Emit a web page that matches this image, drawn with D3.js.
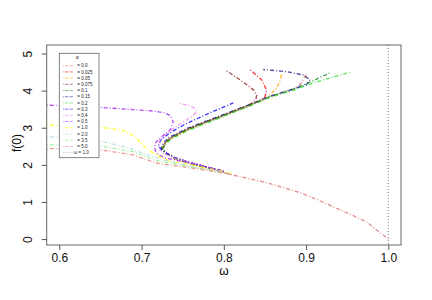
<!DOCTYPE html>
<html>
<head>
<meta charset="utf-8">
<script src="https://cdn.jsdelivr.net/npm/d3@7"></script>
<style>
  body { margin: 0; background: #fff; }
  svg { font-family: "Liberation Sans", Arial, sans-serif; }
</style>
</head>
<body>
<div id="chart"></div>
<script>
// alpha values, one curve each (omega, f(0))
var alphaLabels = ["0.0", "0.025", "0.05", "0.075", "0.1", "0.15", "0.2", "0.3", "0.4", "0.5", "1.0", "2.0", "3.5", "5.0"]

var alpha0 = [[1.0,0.0],[0.986,0.24],[0.9737,0.46],[0.9535,0.67],[0.933,0.87],[0.913,1.07],[0.8927,1.25],[0.8724,1.39],[0.852,1.52],[0.832,1.62],[0.81,1.73],[0.78,1.91],[0.759,2.03],[0.74,2.16],[0.7306,2.28],[0.7255,2.40],[0.729,2.56],[0.735,2.70],[0.7549,2.93],[0.775,3.11],[0.80,3.32],[0.832,3.60],[0.856,3.82],[0.8846,4.03],[0.894,4.20],[0.9008,4.47]]
var alpha0025 = [[0.80,1.82],[0.78,1.94],[0.759,2.06],[0.74,2.19],[0.7306,2.31],[0.725,2.43],[0.7285,2.59],[0.735,2.72],[0.755,2.95],[0.775,3.13],[0.80,3.34],[0.825,3.56],[0.844,3.73],[0.850,3.84],[0.852,4.02],[0.846,4.29],[0.832,4.56]]
var alpha005 = [[0.80,1.81],[0.78,1.93],[0.759,2.05],[0.74,2.18],[0.7306,2.30],[0.7245,2.42],[0.728,2.58],[0.7346,2.71],[0.755,2.94],[0.775,3.12],[0.80,3.33],[0.832,3.61],[0.852,3.80],[0.858,3.92],[0.865,4.10],[0.869,4.30],[0.8704,4.47]]
var alpha0075 = [[0.80,1.82],[0.78,1.94],[0.759,2.06],[0.74,2.19],[0.7306,2.31],[0.726,2.44],[0.729,2.60],[0.736,2.73],[0.755,2.95],[0.775,3.13],[0.80,3.34],[0.825,3.56],[0.834,3.66],[0.839,3.77],[0.84,3.88],[0.836,4.02],[0.828,4.16],[0.8197,4.29],[0.8017,4.56]]
var alpha01 = [[0.80,1.81],[0.78,1.93],[0.759,2.05],[0.74,2.18],[0.7306,2.30],[0.7248,2.42],[0.7285,2.58],[0.7346,2.71],[0.745,2.85],[0.7549,2.94],[0.775,3.12],[0.80,3.33],[0.832,3.61],[0.856,3.84],[0.885,4.05],[0.91,4.28],[0.929,4.48]]
var alpha015 = [[0.80,1.82],[0.78,1.94],[0.759,2.06],[0.74,2.19],[0.7306,2.31],[0.7235,2.44],[0.727,2.60],[0.7335,2.74],[0.754,2.97],[0.775,3.15],[0.80,3.36],[0.832,3.63],[0.856,3.85],[0.8886,4.07],[0.9008,4.17],[0.9048,4.29],[0.8967,4.42],[0.8765,4.51],[0.848,4.57]]
var alpha02 = [[0.80,1.81],[0.78,1.93],[0.759,2.05],[0.74,2.18],[0.7306,2.30],[0.7255,2.41],[0.7295,2.56],[0.7356,2.69],[0.7559,2.92],[0.776,3.10],[0.80,3.31],[0.832,3.59],[0.856,3.82],[0.8846,4.01],[0.91,4.22],[0.9555,4.51]]
var alpha03 = [[0.80,1.82],[0.78,1.94],[0.759,2.06],[0.74,2.20],[0.728,2.33],[0.7205,2.50],[0.723,2.66],[0.733,2.84],[0.745,3.00],[0.759,3.16],[0.785,3.42],[0.8116,3.67]]
var alpha04 = [[0.80,1.82],[0.78,1.94],[0.76,2.06],[0.74,2.19],[0.725,2.33],[0.7204,2.49],[0.7224,2.67],[0.73,2.83],[0.7386,2.98],[0.750,3.15],[0.761,3.30],[0.767,3.43],[0.765,3.52],[0.757,3.61],[0.7447,3.66]]
var alpha05 = [[0.5847,3.61],[0.62,3.58],[0.6486,3.55],[0.689,3.49],[0.7143,3.45],[0.728,3.40],[0.7346,3.33],[0.7386,3.16],[0.7346,2.94],[0.7245,2.76],[0.7164,2.58],[0.7164,2.40],[0.7204,2.27],[0.73,2.18],[0.745,2.11],[0.76,2.05],[0.78,1.94],[0.80,1.82]]
var alpha1 = [[0.5847,3.08],[0.6,3.05],[0.6243,3.04],[0.6528,3.00],[0.6617,2.98],[0.677,2.93],[0.686,2.85],[0.6941,2.71],[0.7022,2.52],[0.7103,2.37],[0.7224,2.22],[0.7346,2.10],[0.76,2.00],[0.79,1.86],[0.81,1.76]]
var alpha2 = [[0.5847,2.76],[0.6243,2.71],[0.6486,2.65],[0.685,2.45],[0.715,2.21],[0.7427,2.04],[0.77,1.92],[0.80,1.79]]
var alpha35 = [[0.5847,2.54],[0.6486,2.51],[0.6892,2.36],[0.7176,2.12],[0.745,2.00],[0.78,1.87],[0.81,1.75]]
var alpha5 = [[0.5847,2.44],[0.6486,2.41],[0.6892,2.27],[0.7176,2.05],[0.745,1.96],[0.78,1.85],[0.81,1.74]]

var curves = [alpha0, alpha0025, alpha005, alpha0075, alpha01, alpha015, alpha02, alpha03, alpha04, alpha05, alpha1, alpha2, alpha35, alpha5]
var colors = ["#d97070", "#ff0000", "#ffa500", "#8b1a1a", "#228b22", "#1a1a8b", "#32dd32", "#0000ff", "#ee82ee", "#a020f0", "#ffff00", "#add8e6", "#90ee90", "#f08080"]

var xTicks = [0.6, 0.7, 0.8, 0.9, 1.0]
var yTicks = [0, 1, 2, 3, 4, 5]
var omegaLine = 1.0

var margin = {top: 45, right: 31, bottom: 55, left: 46.7},
    width = 432 - margin.left - margin.right,
    height = 300 - margin.top - margin.bottom

var svg = d3.select("#chart").append("svg")
    .attr("width", 432)
    .attr("height", 300)

var g = svg.append("g")
    .attr("transform", "translate(" + margin.left + "," + margin.top + ")")

var x = d3.scaleLinear().domain([0.5847, 1.0154]).range([0, width])
var y = d3.scaleLinear().domain([-0.16, 5.23]).range([height, 0])

svg.append("defs").append("clipPath").attr("id", "clip")
  .append("rect").attr("width", width).attr("height", height)

var line = d3.line()
    .x(function(d) { return x(d[0]) })
    .y(function(d) { return y(d[1]) })

var plot = g.append("g").attr("clip-path", "url(#clip)")

plot.selectAll(".curve")
    .data(curves)
  .enter().append("path")
    .attr("class", "curve")
    .attr("d", line)
    .style("fill", "none")
    .style("stroke", function(d, i) { return colors[i] })
    .style("stroke-opacity", 0.8)
    .style("stroke-width", 1.3)
    .style("stroke-dasharray", "1,2,4,2")

// omega = 1 reference line
plot.append("line")
    .attr("x1", x(omegaLine)).attr("x2", x(omegaLine))
    .attr("y1", 0).attr("y2", height)
    .style("stroke", "#888")
    .style("stroke-width", 1)
    .style("stroke-dasharray", "1,2")

// box
g.append("rect")
    .attr("width", width).attr("height", height)
    .style("fill", "none")
    .style("stroke", "#666")
    .style("stroke-width", 1)

// x axis
var xAxis = g.append("g")
    .attr("transform", "translate(0," + height + ")")
    .call(d3.axisBottom(x).tickValues(xTicks).tickFormat(d3.format(".1f")).tickSizeOuter(0).tickSize(5).tickPadding(3))
xAxis.select(".domain").remove()
xAxis.selectAll("line").style("stroke", "#555")
xAxis.selectAll("text").style("font-size", "12px").style("fill", "#111")

// y axis, labels turned like R
var yAxis = g.append("g")
    .call(d3.axisLeft(y).tickValues(yTicks).tickFormat(d3.format("d")).tickSizeOuter(0).tickSize(5))
yAxis.select(".domain").remove()
yAxis.selectAll("line").style("stroke", "#555")
yAxis.selectAll("text")
    .attr("x", null).attr("dy", null)
    .attr("text-anchor", "middle")
    .attr("transform", "translate(-15,0) rotate(-90)")
    .style("font-size", "12px").style("fill", "#111")

g.append("text")
    .text("ω")
    .attr("x", width / 2).attr("y", height + 30)
    .attr("text-anchor", "middle")
    .style("font-size", "12px")

g.append("text")
    .text("f(0)")
    .attr("transform", "translate(-26," + (height / 2 - 2) + ") rotate(-90)")
    .attr("text-anchor", "middle")
    .style("font-size", "12px")

// legend
var lg = g.append("g").attr("transform", "translate(" + (59.3 - margin.left) + "," + (53.3 - margin.top) + ")")
lg.append("rect")
    .attr("width", 39.7).attr("height", 104.4)
    .style("fill", "#fff")
    .style("stroke", "#666")
    .style("stroke-width", 0.8)
lg.append("text").text("α")
    .attr("x", 18).attr("y", 5.5)
    .attr("text-anchor", "middle")
    .style("font-size", "4.5px")

var legendLabels = alphaLabels.map(function(a) { return "= " + a }).concat(["ω = 1.0"])
var legendColors = colors.concat(["#888"])

var item = lg.selectAll(".item")
    .data(legendLabels)
  .enter().append("g")
    .attr("class", "item")
    .attr("transform", function(d, i) { return "translate(0," + (12.4 + i * 6.21) + ")" })

item.append("line")
    .attr("x1", 4).attr("x2", 13.4)
    .style("stroke", function(d, i) { return legendColors[i] })
    .style("stroke-opacity", 0.8)
    .style("stroke-width", 0.8)
    .style("stroke-dasharray", function(d, i) { return i == 14 ? "0.8,1" : "0.8,1,2.5,1" })

item.append("text")
    .text(function(d) { return d })
    .attr("x", function(d, i) { return i == 14 ? 14.5 : 18 })
    .attr("y", 1.6)
    .style("font-size", "4.5px")
    .style("fill", "#222")
</script>
</body>
</html>
